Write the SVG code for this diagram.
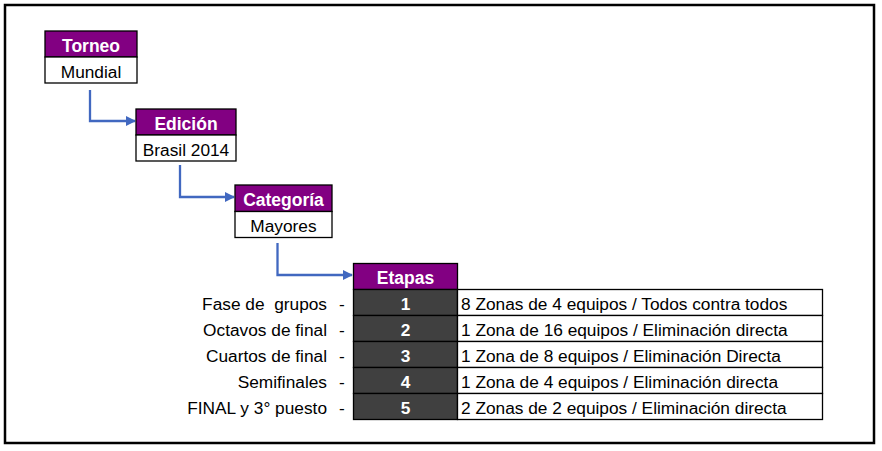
<svg xmlns="http://www.w3.org/2000/svg" width="882" height="451" viewBox="0 0 882 451">
<style>
text{font-family:"Liberation Sans",Arial,sans-serif;font-size:17.3px;white-space:pre}
.hd{fill:#820082;stroke:#000;stroke-width:1.3}
.bd{fill:#fff;stroke:#000;stroke-width:1.3}
.dk{fill:#404040;stroke:#000;stroke-width:1.3}
.ht{font-size:17.5px;font-weight:bold;fill:#fff;text-anchor:middle}
.bt{fill:#000;text-anchor:middle}
.nt{font-weight:bold;fill:#fff;text-anchor:middle}
.lt{fill:#000;text-anchor:end}
.rt{fill:#000}
.dt{fill:#000;text-anchor:middle}
.cn{fill:none;stroke:#4168C0;stroke-width:2.3;marker-end:url(#ah)}
</style>
<defs>
<marker id="ah" markerWidth="10" markerHeight="10" refX="9" refY="5" orient="auto" markerUnits="userSpaceOnUse">
<path d="M0,0 L10,5 L0,10 Z" fill="#4168C0"/>
</marker>
</defs>
<rect x="0" y="0" width="882" height="451" fill="#fff"/>
<rect x="5" y="5" width="869" height="438" fill="none" stroke="#000" stroke-width="2.5"/>
<g id="connectors">
<path class="cn" d="M90,90 V121 H135"/>
<path class="cn" d="M180,165 V197 H234"/>
<path class="cn" d="M277.5,243 V275 H352"/>
</g>
<g id="torneo">
<rect class="hd" x="45" y="31" width="92" height="26"/>
<rect class="bd" x="45" y="57" width="92" height="26"/>
<text class="ht" x="91" y="51.5">Torneo</text>
<text class="bt" x="91" y="77.5">Mundial</text>
</g>
<g id="edicion">
<rect class="hd" x="136" y="109" width="100" height="26"/>
<rect class="bd" x="136" y="135" width="100" height="26"/>
<text class="ht" x="186" y="129.5">Edición</text>
<text class="bt" x="186" y="155.5">Brasil 2014</text>
</g>
<g id="categoria">
<rect class="hd" x="235" y="185" width="97" height="26.5"/>
<rect class="bd" x="235" y="211.5" width="97" height="26"/>
<text class="ht" x="283.5" y="205.5">Categoría</text>
<text class="bt" x="283.5" y="231.5">Mayores</text>
</g>
<g id="etapas">
<rect class="hd" x="353.5" y="263.5" width="104" height="26"/>
<text class="ht" x="405.5" y="284">Etapas</text>
<rect class="dk" x="353.5" y="289.5" width="104" height="26"/>
<rect class="dk" x="353.5" y="315.5" width="104" height="26"/>
<rect class="dk" x="353.5" y="341.5" width="104" height="26"/>
<rect class="dk" x="353.5" y="367.5" width="104" height="26"/>
<rect class="dk" x="353.5" y="393.5" width="104" height="26"/>
<rect class="bd" x="457.5" y="289.5" width="365" height="26"/>
<rect class="bd" x="457.5" y="315.5" width="365" height="26"/>
<rect class="bd" x="457.5" y="341.5" width="365" height="26"/>
<rect class="bd" x="457.5" y="367.5" width="365" height="26"/>
<rect class="bd" x="457.5" y="393.5" width="365" height="26"/>
<text class="nt" x="405.5" y="309.5">1</text>
<text class="nt" x="405.5" y="335.5">2</text>
<text class="nt" x="405.5" y="361.5">3</text>
<text class="nt" x="405.5" y="387.5">4</text>
<text class="nt" x="405.5" y="413.5">5</text>
<text class="rt" x="461" y="309.5">8 Zonas de 4 equipos / Todos contra todos</text>
<text class="rt" x="461" y="335.5">1 Zona de 16 equipos / Eliminación directa</text>
<text class="rt" x="461" y="361.5">1 Zona de 8 equipos / Eliminación Directa</text>
<text class="rt" x="461" y="387.5">1 Zona de 4 equipos / Eliminación directa</text>
<text class="rt" x="461" y="413.5">2 Zonas de 2 equipos / Eliminación directa</text>
<text class="lt" x="327" y="309.5">Fase de  grupos</text>
<text class="lt" x="327" y="335.5">Octavos de final</text>
<text class="lt" x="327" y="361.5">Cuartos de final</text>
<text class="lt" x="327" y="387.5">Semifinales</text>
<text class="lt" x="327" y="413.5">FINAL y 3° puesto</text>
<text class="dt" x="342" y="309.5">-</text>
<text class="dt" x="342" y="335.5">-</text>
<text class="dt" x="342" y="361.5">-</text>
<text class="dt" x="342" y="387.5">-</text>
<text class="dt" x="342" y="413.5">-</text>
</g>
</svg>
